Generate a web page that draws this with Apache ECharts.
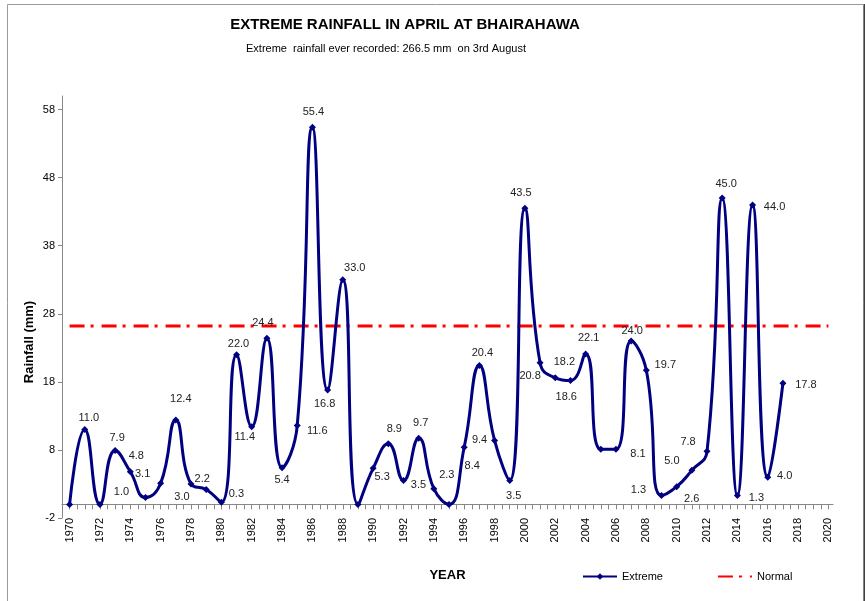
<!DOCTYPE html>
<html>
<head>
<meta charset="utf-8">
<title>Extreme rainfall in April at Bhairahawa</title>
<script src="https://cdn.jsdelivr.net/npm/echarts@6/dist/echarts.min.js"></script>
<style>
    html, body { margin: 0; padding: 0; background: #fff; }
    #chart { width: 865px; height: 601px; }
</style>
</head>
<body>
<div id="chart"></div>
<script>
    var years = [1970, 1971, 1972, 1973, 1974, 1975, 1976, 1977, 1978, 1979,
        1980, 1981, 1982, 1983, 1984, 1985, 1986, 1987, 1988, 1989,
        1990, 1991, 1992, 1993, 1994, 1995, 1996, 1997, 1998, 1999,
        2000, 2001, 2002, 2003, 2004, 2005, 2006, 2007, 2008, 2009,
        2010, 2011, 2012, 2013, 2014, 2015, 2016, 2017];
    var extremeValues = [0, 11.0, 0, 7.9, 4.8, 1.0, 3.1, 12.4, 3.0, 2.2,
        0.3, 22.0, 11.4, 24.4, 5.4, 11.6, 55.4, 16.8, 33.0, 0,
        5.3, 8.9, 3.5, 9.7, 2.3, 0, 8.4, 20.4, 9.4, 3.5,
        43.5, 20.8, 18.6, 18.2, 22.1, 8.1, 8.1, 24.0, 19.7, 1.3,
        2.6, 5.0, 7.8, 45.0, 1.3, 44.0, 4.0, 17.8];
    var normalYears = [1970, 2020];
    var normalValues = [26.2, 26.2];
    var yearTicks = [1970, 1972, 1974, 1976, 1978, 1980, 1982, 1984, 1986, 1988,
        1990, 1992, 1994, 1996, 1998, 2000, 2002, 2004, 2006, 2008,
        2010, 2012, 2014, 2016, 2018, 2020];
    var rainTicks = [-2, 8, 18, 28, 38, 48, 58];

    // where each value label sits, relative to its point (missing = no label)
    var labelOffset = {
        1971: [4, -12], 1973: [2, -13], 1974: [6, -16], 1975: [-24, -6], 1976: [-18, -9],
        1977: [5, -21], 1978: [-9, 13], 1979: [-4, -10], 1980: [15, -8], 1981: [2, -11],
        1982: [-7, 10], 1983: [-4, -15], 1984: [0, 12], 1985: [20, 6], 1986: [1, -15],
        1987: [-3, 14], 1988: [12, -12], 1990: [9, 9], 1991: [6, -15], 1992: [15, 4],
        1993: [2, -15], 1994: [13, -14], 1996: [8, 19], 1997: [3, -13], 1998: [-15, 0],
        1999: [4, 15], 2000: [-4, -15], 2001: [-10, 13], 2002: [11, 19], 2003: [-6, -19],
        2004: [3, -16], 2006: [22, 5], 2007: [1, -10], 2008: [19, -5], 2009: [-23, -6],
        2010: [15, 12], 2011: [-20, -9], 2012: [-19, -9], 2013: [4, -14], 2014: [19, 2],
        2015: [22, 2], 2016: [17, -1], 2017: [23, 2]
    };

    var font = '"Liberation Sans", Arial, sans-serif';

    var extremeData = years.map(function (y, i) {
        var off = labelOffset[y];
        return {
            value: [y, extremeValues[i]],
            label: off ? { show: true, position: 'inside', offset: off } : { show: false }
        };
    });
    var normalData = normalYears.map(function (y, i) { return [y, normalValues[i]]; });

    var halfYears = [];
    for (var t = 1970; t <= 2020; t += 0.5) halfYears.push(t);

    var myChart = echarts.init(document.getElementById('chart'), null, { renderer: 'canvas' });
    myChart.setOption({
        animation: false,
        textStyle: { fontFamily: font },
        title: [
            {
                text: 'EXTREME RAINFALL IN APRIL AT BHAIRAHAWA',
                left: 400, top: 12, textAlign: 'center',
                textStyle: { fontFamily: font, fontSize: 15, fontWeight: 'bold', color: '#000' }
            },
            {
                text: 'Extreme  rainfall ever recorded: 266.5 mm  on 3rd August',
                left: 381, top: 38, textAlign: 'center',
                textStyle: { fontFamily: font, fontSize: 11, fontWeight: 'normal', color: '#000' }
            }
        ],
        legend: {
            left: 577, top: 566,
            itemWidth: 34, itemHeight: 8, itemGap: 54,
            textStyle: { fontFamily: font, fontSize: 11, color: '#000' },
            data: [
                { name: 'Extreme' },
                { name: 'Normal', itemStyle: { color: 'rgba(0,0,0,0)', borderWidth: 0 } }
            ]
        },
        grid: { left: 62, right: 32, top: 96, bottom: 83, containLabel: false, outerBoundsMode: 'none' },
        xAxis: {
            type: 'value',
            min: 1969.5, max: 2020.3,
            name: 'YEAR', nameLocation: 'middle', nameGap: 51,
            nameTextStyle: { fontFamily: font, fontSize: 13, fontWeight: 'bold', color: '#000' },
            axisLine: { show: true, onZero: true, lineStyle: { color: '#868686' } },
            axisTick: { show: true, length: 5, customValues: halfYears, lineStyle: { color: '#868686' } },
            axisLabel: {
                customValues: yearTicks, rotate: 90, margin: 0, fontSize: 11, color: '#000', fontFamily: font,
                formatter: function (v) { return String(v); }
            },
            splitLine: { show: false }
        },
        yAxis: {
            type: 'value',
            min: -2, max: 60,
            axisLine: { show: true, lineStyle: { color: '#868686' } },
            axisTick: { show: true, length: 4, customValues: rainTicks, lineStyle: { color: '#868686' } },
            axisLabel: { customValues: rainTicks, margin: 7, fontSize: 11, color: '#000', fontFamily: font },
            splitLine: { show: false }
        },
        graphic: [
            {
                type: 'rect', z: -1, silent: true,
                shape: { x: 7.5, y: 4.5, width: 856, height: 600 },
                style: { fill: 'none', stroke: '#9a9a9a', lineWidth: 1 }
            },
            {
                type: 'line', silent: true,
                shape: { x1: 864.5, y1: 4, x2: 864.5, y2: 601 },
                style: { stroke: '#404040', lineWidth: 1.5 }
            },
            {
                type: 'text', x: 29, y: 342, rotation: Math.PI / 2,
                style: {
                    text: 'Rainfall (mm)', align: 'center', verticalAlign: 'middle',
                    font: 'bold 13px ' + font, fill: '#000'
                }
            }
        ],
        series: [
            {
                name: 'Extreme',
                type: 'line',
                smooth: 0.5,
                symbol: 'diamond',
                symbolSize: 7,
                data: extremeData,
                lineStyle: { color: '#000080', width: 3 },
                itemStyle: { color: '#000080' },
                label: {
                    fontFamily: font, fontSize: 11, color: '#222',
                    formatter: function (p) { return p.value[1].toFixed(1); }
                },
                z: 3
            },
            {
                name: 'Normal',
                type: 'line',
                symbol: 'none',
                data: normalData,
                lineStyle: { color: '#ff0000', width: 3, type: [15, 6, 3, 8] },
                itemStyle: { color: '#ff0000' },
                z: 2
            }
        ]
    });
</script>
</body>
</html>
